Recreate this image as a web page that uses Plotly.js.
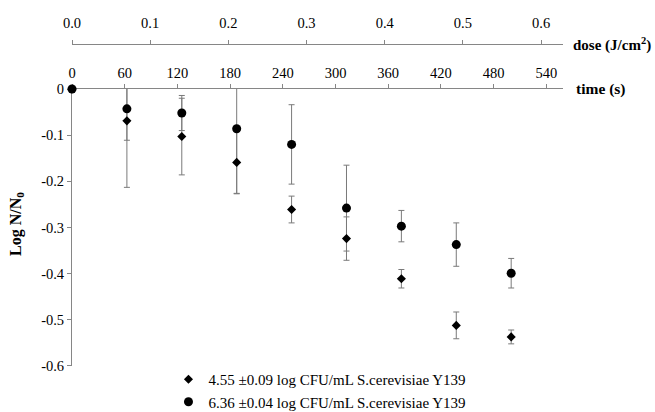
<!DOCTYPE html>
<html>
<head>
<meta charset="utf-8">
<script src="https://cdn.plot.ly/plotly-3.0.1.min.js"></script>
<style>html,body{margin:0;padding:0;background:#fff;}#chart{width:655px;height:412px;}</style>
</head>
<body>
<div id="chart"></div>
<script>
// ---- data ----
const timeSec = [0, 62.5, 125, 187.5, 250, 312.5, 375, 437.5, 500];
const lowLogRed = [0, -0.069, -0.103, -0.159, -0.261, -0.324, -0.411, -0.512, -0.537];
const lowErr = [0, 0.144, 0.083, 0.067, 0.029, 0.047, 0.020, 0.029, 0.015];
const highLogRed = [0, -0.043, -0.052, -0.086, -0.120, -0.258, -0.297, -0.337, -0.399];
const highErr = [0, 0.068, 0.038, 0.141, 0.086, 0.093, 0.034, 0.047, 0.032];

const lowName = "4.55 ±0.09 log CFU/mL S.cerevisiae Y139";
const highName = "6.36 ±0.04 log CFU/mL S.cerevisiae Y139";

const timeTicks = [0, 60, 120, 180, 240, 300, 360, 420, 480, 540];
const doseTicks = [0, 0.1, 0.2, 0.3, 0.4, 0.5, 0.6];
const doseTickText = ["0.0", "0.1", "0.2", "0.3", "0.4", "0.5", "0.6"];
const yTicks = [0, -0.1, -0.2, -0.3, -0.4, -0.5, -0.6];
const yTickText = ["0", "-0.1", "-0.2", "-0.3", "-0.4", "-0.5", "-0.6"];

const FONT = "'Liberation Serif', 'Times New Roman', Tinos, 'DejaVu Serif', serif";
const AXC = "#868686";
const ERRC = "#7a7a7a";

function errTrace(y, e) {
  return {
    x: timeSec, y: y, type: "scatter", mode: "markers",
    marker: {opacity: 0, size: 1},
    error_y: {type: "data", array: e, visible: true, color: ERRC, thickness: 1, width: 3},
    showlegend: false, hoverinfo: "skip", cliponaxis: true
  };
}

const traces = [
  errTrace(lowLogRed, lowErr),
  errTrace(highLogRed, highErr),
  {
    x: timeSec, y: lowLogRed, type: "scatter", mode: "markers", name: lowName,
    marker: {symbol: "diamond", size: 7, color: "#000"}, cliponaxis: false
  },
  {
    x: timeSec, y: highLogRed, type: "scatter", mode: "markers", name: highName,
    marker: {symbol: "circle", size: 9, color: "#000"}, cliponaxis: false
  },
  // carrier for the dose axis (no visible marks)
  {
    x: doseTicks, y: doseTicks.map(() => null), xaxis: "x2", yaxis: "y",
    type: "scatter", mode: "markers", showlegend: false, hoverinfo: "skip"
  }
];

const tickFont = {family: FONT, size: 14.5, color: "#000"};
const titleFont = {family: FONT, size: 15.5, color: "#000", weight: "bold"};

const layout = {
  width: 655, height: 412,
  margin: {l: 72, r: 92, t: 44, b: 46, autoexpand: false},
  paper_bgcolor: "#fff", plot_bgcolor: "#fff",
  font: {family: FONT, color: "#000"},
  xaxis: {
    range: [0, 559], side: "top", anchor: "y",
    tickvals: timeTicks, ticks: "outside", ticklen: 4, tickcolor: AXC, tickwidth: 1,
    showline: true, linecolor: AXC, linewidth: 1,
    showgrid: false, zeroline: false, tickfont: tickFont, layer: "below traces",
    automargin: false
  },
  xaxis2: {
    range: [0, 0.628], side: "top", anchor: "free", position: 1, overlaying: "x",
    tickvals: doseTicks, ticktext: doseTickText, ticks: "outside", ticklen: 4, tickcolor: AXC,
    showline: true, linecolor: AXC, linewidth: 1, ticklabelstandoff: 6,
    showgrid: false, zeroline: false, tickfont: tickFont, automargin: false
  },
  yaxis: {
    domain: [0, 0.8602], range: [-0.6, 0],
    tickvals: yTicks, ticktext: yTickText, ticks: "outside", ticklen: 4, tickcolor: AXC,
    showline: true, linecolor: AXC, linewidth: 1,
    showgrid: false, zeroline: false, tickfont: tickFont, layer: "below traces",
    automargin: false
  },
  legend: {
    x: 0.1965, xanchor: "left", y: 0.0093, yanchor: "top",
    font: {family: FONT, size: 15, color: "#000"}, bgcolor: "rgba(0,0,0,0)",
    tracegroupgap: 0, itemwidth: 30
  },
  showlegend: true,
  annotations: [
    {text: "time (s)", xref: "paper", yref: "paper", x: 1.0224, y: 0.8602,
     xanchor: "left", yanchor: "middle", showarrow: false, font: titleFont},
    {text: "dose (J/cm<sup>2</sup>)", xref: "paper", yref: "paper", x: 1.017, y: 1,
     xanchor: "left", yanchor: "middle", showarrow: false,
     font: {family: FONT, size: 15, color: "#000", weight: "bold"}},
    {text: "Log N/N<sub>0</sub>", xref: "paper", yref: "paper", x: -0.112, y: 0.441,
     xanchor: "center", yanchor: "middle", textangle: -90, showarrow: false,
     font: {family: FONT, size: 16, color: "#000", weight: "bold"}}
  ]
};

Plotly.newPlot("chart", traces, layout, {displayModeBar: false, staticPlot: true});
</script>
</body>
</html>
